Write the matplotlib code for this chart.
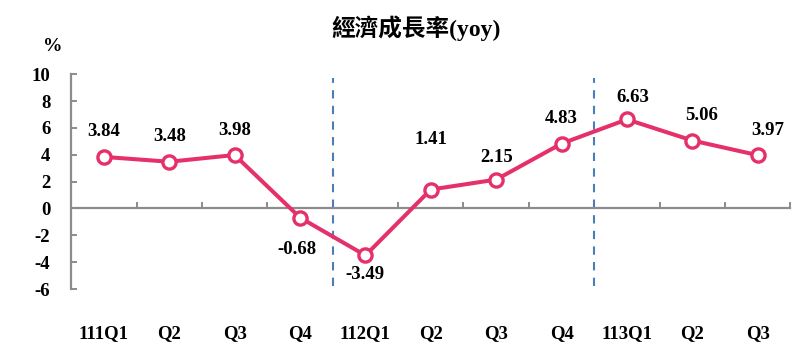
import matplotlib
matplotlib.use("Agg")
import matplotlib.pyplot as plt
import matplotlib.transforms as mtransforms

# Data
quarters = ["111Q1", "Q2", "Q3", "Q4", "112Q1", "Q2", "Q3", "Q4", "113Q1", "Q2", "Q3"]
growth = [3.84, 3.48, 3.98, -0.68, -3.49, 1.41, 2.15, 4.83, 6.63, 5.06, 3.97]
year_breaks = [3.5, 7.5]
y_ticks = [-6, -4, -2, 0, 2, 4, 6, 8, 10]

# label offsets in points (dx, dy), tuned by eye
label_offsets = [(0, 18), (0, 18), (0, 18), (-2, -23), (0, -14), (0, 36),
                 (0, 16), (0, 18), (4, 16), (7, 18), (7, 18)]

serif = ["Liberation Serif", "Noto Sans CJK TC"]
line_col = "#E5306A"
axis_col = "#8C8C8C"

fig = plt.figure(figsize=(8.0, 3.53), dpi=100)
ax = fig.add_axes([0.089, 0.181, 0.899, 0.609])

x = list(range(len(growth)))
ax.plot(x, growth, color=line_col, lw=2.9, marker="o", ms=9.5,
        mfc="white", mec=line_col, mew=2.4, zorder=3)

for xb in year_breaks:
    ax.plot([xb, xb], [-5.8, 9.7], color="#4A7EBB", lw=1.5,
            ls=(0, (4, 3.5)), zorder=2)

for xi, v, (dx, dy) in zip(x, growth, label_offsets):
    ax.annotate(f"{v:.2f}", (xi, v), xytext=(dx, dy), textcoords="offset points",
                ha="center", va="center", fontsize=13.5, fontweight="bold",
                family=serif)

ax.set_xlim(-0.5, 10.5)
ax.set_ylim(-6, 10)

for s in ["top", "right"]:
    ax.spines[s].set_visible(False)
ax.spines["bottom"].set_position(("data", 0))
ax.spines["bottom"].set_color(axis_col)
ax.spines["bottom"].set_linewidth(1.6)
ax.spines["left"].set_color(axis_col)
ax.spines["left"].set_linewidth(1.6)

ax.set_xticks([i + 0.5 for i in range(len(quarters))])
ax.set_xticklabels([])
ax.tick_params(axis="x", direction="in", length=4, width=1.4, color=axis_col)

ax.set_yticks(y_ticks)
ax.set_yticklabels([str(t) for t in y_ticks], fontsize=13.5,
                   fontweight="bold", family=serif)
ax.tick_params(axis="y", direction="in", length=4, width=1.4, color=axis_col, pad=15)

trans = mtransforms.blended_transform_factory(ax.transData, ax.transAxes)
for xi, q in zip(x, quarters):
    ax.text(xi, -0.205, q, transform=trans, ha="center", va="center",
            fontsize=13.5, fontweight="bold", family=serif)

fig.text(0.52, 0.921, "經濟成長率(yoy)", ha="center", va="center",
         fontsize=17, fontweight="bold", family=serif)
fig.text(0.066, 0.867, "%", ha="center", va="center",
         fontsize=14, fontweight="bold", family=serif)

fig.savefig("out.png", dpi=100)
